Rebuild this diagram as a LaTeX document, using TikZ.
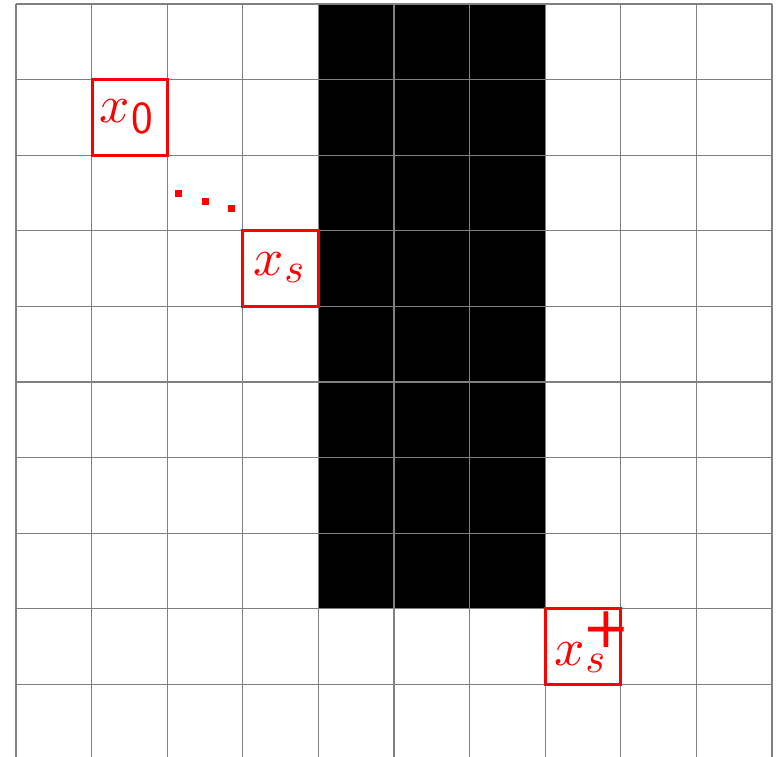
\documentclass[tikz,border=0pt]{standalone}
\usepackage{graphicx}
\usepackage{fontspec}
\newfontfamily\dvsans{DejaVu Sans}
\begin{document}
\begin{tikzpicture}[x=1pt,y=-1pt,
  gridline/.style={draw=black!50,line width=1.3pt},
  redbox/.style={draw=red,line width=3pt,minimum size=75.6pt,inner sep=0pt,outer sep=0pt},
  lbl/.style={text=red,inner sep=0pt,anchor=base west},
  reddot/.style={fill=red}]
\useasboundingbox (0,0) rectangle (782,757);
\fill[black] (318,4) rectangle (545,608.8);
\begin{scope}
\clip (0,0) rectangle (782,757);
\foreach \k in {0,...,10}{
  \draw[gridline] ({16+75.6*\k},4) -- ({16+75.6*\k},762);
}
\foreach \k in {0,...,9}{
  \draw[gridline] (16,{4+75.6*\k}) -- (772,{4+75.6*\k});
}
\end{scope}
% red boxes
\node[redbox] (b0) at (129.8,117.4) {};
\node[redbox] (bs) at (280.6,268.6) {};
\node[redbox] (bp) at (583,646.6) {};
% labels
\node[lbl] (t0) at (99,123) {\scalebox{5.3}{$x$}\kern2pt\raisebox{-11pt}{\fontsize{46}{46}\selectfont\sffamily 0}};
\node[lbl] (ts) at (253,275) {\scalebox{5.3}{$x$}\kern1pt\raisebox{-7pt}{\scalebox{4.2}{$s$}}};
\node[lbl] (tp) at (554,665) {\scalebox{5.3}{$x$}\kern1pt\raisebox{-7pt}{\scalebox{4.2}{$s$}}};
\node[text=red,inner sep=0pt,font=\fontsize{57}{57}\selectfont\dvsans] (pl) at (606,630) {+};
% dots
\fill[reddot] (175,189.5) rectangle (182,196.5);
\fill[reddot] (201.5,198) rectangle (208.5,205);
\fill[reddot] (228,205) rectangle (235,212);
\end{tikzpicture}
\end{document}
